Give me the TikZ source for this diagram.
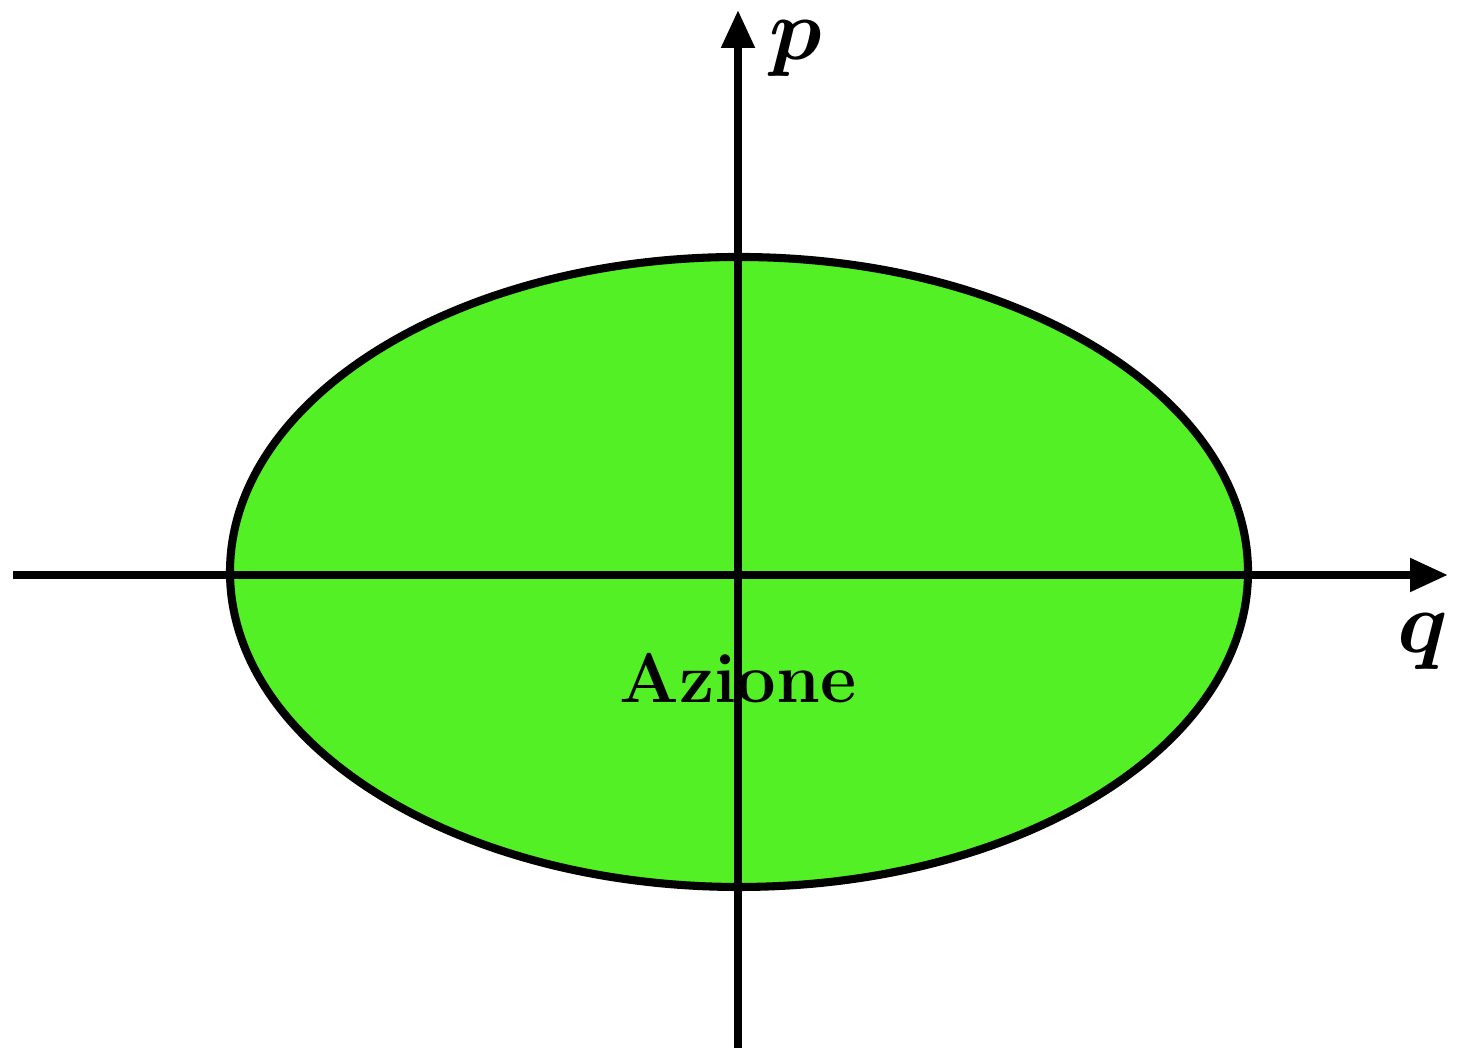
\documentclass[tikz,border=0pt]{standalone}
\usepackage{amsmath}
\usetikzlibrary{arrows.meta}
\definecolor{azionegreen}{RGB}{82,240,36}
\begin{document}
\begin{tikzpicture}[>={Triangle[length=0.38cm,width=0.32cm]}, line width=2.3pt]
\useasboundingbox (0,0) rectangle (14.58,10.52);
\fill[azionegreen] (7.39,4.80) ellipse [x radius=5.09, y radius=3.15];
\draw (7.39,4.80) ellipse [x radius=5.09, y radius=3.15];
\coordinate (qstart) at (0.13,4.77);
\coordinate (qend) at (14.48,4.77);
\coordinate (pstart) at (7.38,0.04);
\coordinate (pend) at (7.38,10.42);
\draw[->] (qstart) -- (qend);
\draw[->] (pstart) -- (pend);
\node[inner sep=0pt] (p) at (7.96,10.03) {\fontsize{30}{30}\selectfont$\boldsymbol{p}$};
\node[inner sep=0pt] (q) at (14.23,4.10) {\fontsize{30}{30}\selectfont$\boldsymbol{q}$};
\node[anchor=base] (azione) at (7.38,3.49) {\fontsize{20}{20}\selectfont\bfseries Azione};
\end{tikzpicture}
\end{document}
